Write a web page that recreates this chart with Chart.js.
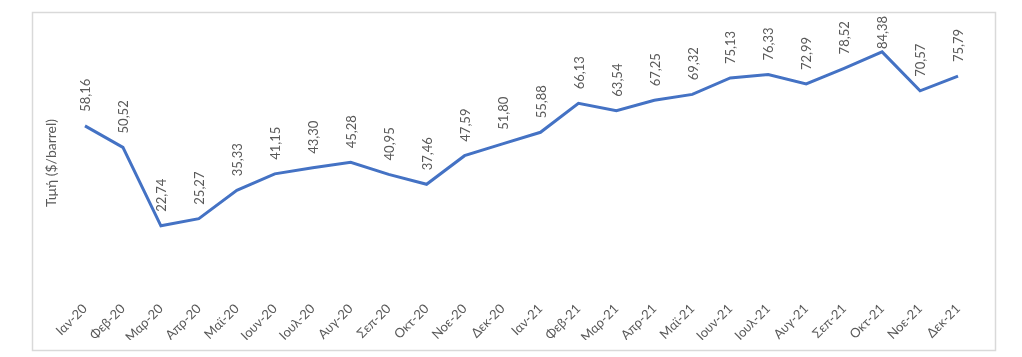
<!DOCTYPE html>
<html>
<head>
<meta charset="utf-8">
<script src="https://cdn.jsdelivr.net/npm/chart.js@4"></script>
<style>
html,body{margin:0;padding:0;background:#fff;}
#wrap{position:relative;width:1022px;height:357px;}
</style>
</head>
<body>
<div id="wrap"><canvas id="c" width="1022" height="357"></canvas></div>
<script>
const categories = ["Ιαν-20","Φεβ-20","Μαρ-20","Απρ-20","Μαϊ-20","Ιουν-20","Ιουλ-20","Αυγ-20","Σεπ-20","Οκτ-20","Νοε-20","Δεκ-20","Ιαν-21","Φεβ-21","Μαρ-21","Απρ-21","Μαϊ-21","Ιουν-21","Ιουλ-21","Αυγ-21","Σεπ-21","Οκτ-21","Νοε-21","Δεκ-21"];
const prices = [58.16,50.52,22.74,25.27,35.33,41.15,43.30,45.28,40.95,37.46,47.59,51.80,55.88,66.13,63.54,67.25,69.32,75.13,76.33,72.99,78.52,84.38,70.57,75.79];
const yTitle = "Τιμή ($/barrel)";

const frame = {
  id: 'frame',
  beforeDraw(chart) {
    const ctx = chart.ctx;
    ctx.save();
    ctx.fillStyle = '#fff';
    ctx.fillRect(0, 0, chart.width, chart.height);
    ctx.strokeStyle = '#d9d9d9';
    ctx.lineWidth = 1.5;
    ctx.strokeRect(32.5, 12.5, 963, 338);
    ctx.restore();
  }
};

const labelsPlugin = {
  id: 'vlabels',
  afterDatasetsDraw(chart) {
    const ctx = chart.ctx;
    const meta = chart.getDatasetMeta(0);
    ctx.save();
    ctx.font = '13px Lato';
    ctx.fillStyle = '#595959';
    ctx.textAlign = 'left';
    ctx.textBaseline = 'middle';
    meta.data.forEach((pt, i) => {
      const txt = prices[i].toFixed(2).replace('.', ',');
      const w = ctx.measureText(txt).width;
      const start = Math.max(pt.y - 14, 16 + w);
      ctx.save();
      ctx.translate(pt.x + 1, start);
      ctx.rotate(-Math.PI / 2);
      ctx.fillText(txt, 0, 0);
      ctx.restore();
    });
    ctx.restore();
  }
};

new Chart(document.getElementById('c'), {
  type: 'line',
  data: {
    labels: categories,
    datasets: [{
      data: prices,
      borderColor: '#4472C4',
      borderWidth: 3,
      pointRadius: 0,
      tension: 0,
      fill: false
    }]
  },
  options: {
    responsive: false,
    animation: false,
    events: [],
    layout: { padding: { left: 32, right: 45, top: 36, bottom: 17 } },
    plugins: { legend: { display: false }, tooltip: { enabled: false } },
    scales: {
      x: {
        offset: true,
        grid: { display: false },
        border: { display: false },
        ticks: {
          color: '#595959',
          font: { family: 'Lato', size: 13 },
          maxRotation: 45, minRotation: 45,
          autoSkip: false,
          padding: 3
        },
        afterFit(s) { s.height = 50; }
      },
      y: {
        min: 0, max: 90,
        grid: { display: false },
        border: { display: false },
        ticks: { display: false },
        title: {
          display: true,
          text: yTitle,
          color: '#595959',
          font: { family: 'Lato', size: 14 },
          padding: { top: 11, bottom: 0 }
        },
        afterFit(s) { s.width = 34; }
      }
    }
  },
  plugins: [frame, labelsPlugin]
});
</script>
</body>
</html>
